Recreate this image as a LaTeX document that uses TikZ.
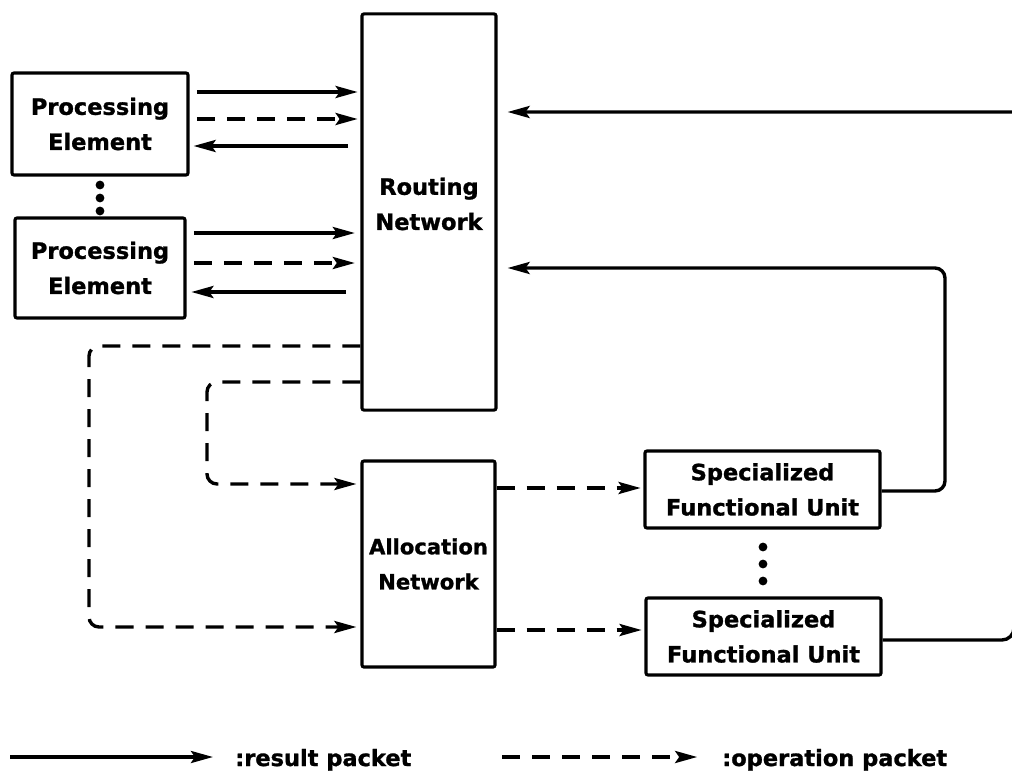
\documentclass[tikz,border=0pt]{standalone}
\usepackage{fontspec}
\setmainfont{DejaVu Sans}[BoldFeatures={FakeBold=1.2}]
\usetikzlibrary{arrows.meta}

\begin{document}
\begin{tikzpicture}[x=0.025cm, y=-0.025cm,
  every node/.style={font=\bfseries\fontsize{16}{25}\selectfont},
  block/.style={draw, line width=2.2pt, rounded corners=0.05cm, align=center, inner sep=0pt},
  wire/.style={line width=2.4pt},
  link/.style={wire, -{Stealth[length=0.55cm, width=0.3cm, inset=0.1cm]}},
  opdash/.style={dash pattern=on 0.45cm off 0.3cm},
  roundpath/.style={rounded corners=0.25cm}]

\useasboundingbox (0,0) rectangle (1012,775);

% processing elements
\node[block, minimum width=4.4cm, minimum height=2.55cm] (pe1) at (100,124) {Processing\\Element};
\node[block, minimum width=4.25cm, minimum height=2.5cm] (pe2) at (100,268) {Processing\\Element};
\fill (100,185) circle (0.11cm) (100,198) circle (0.11cm) (100,211) circle (0.11cm);

% routing network
\node[block, minimum width=3.35cm, minimum height=9.9cm] (rn) at (429,212) {};
\node[align=center] (rntext) at (429,204) {Routing\\Network};

% allocation network
\node[block, minimum width=3.325cm, minimum height=5.15cm,
      font=\bfseries\fontsize{15}{25}\selectfont] (an) at (428.5,564) {Allocation\\Network};

% specialized functional units
\node[block, minimum width=5.875cm, minimum height=1.925cm] (sfu1) at (762.5,489.5) {Specialized\\Functional Unit};
\node[block, minimum width=5.875cm, minimum height=1.925cm] (sfu2) at (763.5,636.5) {Specialized\\Functional Unit};
\fill (763,547) circle (0.11cm) (763,564) circle (0.11cm) (763,581) circle (0.11cm);

% PE <-> routing network
\draw[link, shorten <=0.18cm, shorten >=0.07cm] (pe1.east |- 0,92) -- (rn.west |- 0,92);
\draw[link, opdash, shorten <=0.18cm, shorten >=0.07cm] (pe1.east |- 0,119) -- (rn.west |- 0,119);
\draw[link, shorten <=0.31cm, shorten >=0.1cm] (rn.west |- 0,146) -- (pe1.east |- 0,146);

\draw[link, shorten <=0.18cm, shorten >=0.14cm] (pe2.east |- 0,233) -- (rn.west |- 0,233);
\draw[link, opdash, shorten <=0.18cm, shorten >=0.14cm] (pe2.east |- 0,263) -- (rn.west |- 0,263);
\draw[link, shorten <=0.36cm, shorten >=0.12cm] (rn.west |- 0,292) -- (pe2.east |- 0,292);

% routing network -> allocation network
\draw[link, opdash, roundpath, shorten >=0.1cm] (rn.west |- 0,346) -- (89,346) -- (89,627) -- (an.west |- 0,627);
\draw[link, opdash, roundpath, shorten >=0.1cm] (rn.west |- 0,382) -- (207,382) -- (207,484) -- (an.west |- 0,484);

% allocation network -> functional units
\draw[link, opdash, shorten >=0.07cm] (an.east |- 0,488) -- (sfu1.west |- 0,488);
\draw[link, opdash, shorten >=0.07cm] (an.east |- 0,630) -- (sfu2.west |- 0,630);

% results back to the routing network
\draw[link, roundpath, shorten >=0.25cm] (sfu1.east |- 0,491) -- (945,491) -- (945,268) -- (rn.east |- 0,268);
\begin{scope}
  \clip (0,0) rectangle (1012,775);
  \draw[link, shorten >=0.25cm] (sfu2.east |- 0,640) -- (1002,640)
    arc[start angle=270, end angle=360, radius=0.3cm] -- (1014,112) -- (rn.east |- 0,112);
\end{scope}

% legend
\coordinate (ls) at (10,757);
\node[anchor=base west, inner sep=0pt] (lt1) at (235,766) {:result packet};
\draw[link, shorten >=0.55cm] (ls) -- (ls -| lt1.west);

\coordinate (ds) at (502,757);
\node[anchor=base west, inner sep=0pt] (lt2) at (722,766) {:operation packet};
\draw[link, opdash, shorten >=0.62cm] (ds) -- (ds -| lt2.west);

\end{tikzpicture}
\end{document}
